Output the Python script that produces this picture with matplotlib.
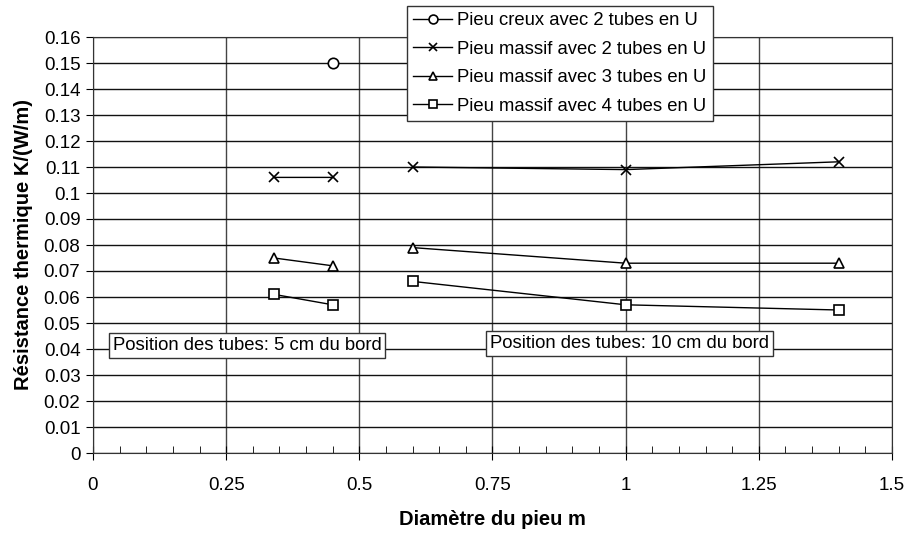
import numpy as np
import matplotlib
matplotlib.use('Agg')
import matplotlib.pyplot as plt
from matplotlib.ticker import MultipleLocator, FuncFormatter

plt.rcParams['font.family'] = ['Liberation Sans', 'DejaVu Sans']

# donnees (NaN = coupure entre 5 cm et 10 cm du bord)
diam = [0.34, 0.45, np.nan, 0.6, 1.0, 1.4]
creux_2u_x = [0.45]
creux_2u = [0.15]
massif_2u = [0.106, 0.106, np.nan, 0.110, 0.109, 0.112]
massif_3u = [0.075, 0.072, np.nan, 0.079, 0.073, 0.073]
massif_4u = [0.061, 0.057, np.nan, 0.066, 0.057, 0.055]
labels = ['Pieu creux avec 2 tubes en U', 'Pieu massif avec 2 tubes en U',
          'Pieu massif avec 3 tubes en U', 'Pieu massif avec 4 tubes en U']

fig = plt.figure(figsize=(9.06, 5.33), dpi=100)
ax = fig.add_axes([93/906, 1-453/533, 799/906, 416/533])

style = dict(color='black', lw=1.0, mfc='white', mec='black', mew=1.2, ms=7.5)
ax.plot(creux_2u_x, creux_2u, marker='o', label=labels[0], **style)
ax.plot(diam, massif_2u, marker='x', label=labels[1], **style)
ax.plot(diam, massif_3u, marker='^', label=labels[2], **style)
ax.plot(diam, massif_4u, marker='s', label=labels[3], **style)

fmt = FuncFormatter(lambda v, p: ('%.2f' % v).rstrip('0').rstrip('.'))
ax.set_xlim(0, 1.5)
ax.set_ylim(0, 0.16)
ax.xaxis.set_major_locator(MultipleLocator(0.25))
ax.xaxis.set_minor_locator(MultipleLocator(0.05))
ax.yaxis.set_major_locator(MultipleLocator(0.01))
ax.xaxis.set_major_formatter(fmt)
ax.yaxis.set_major_formatter(fmt)
ax.grid(True, which='major', axis='y', color='#111111', lw=1.0)
ax.grid(True, which='major', axis='x', color='#444444', lw=1.0)
ax.set_axisbelow(True)
for s in ax.spines.values():
    s.set_color('#333333')
ax.tick_params(axis='x', which='major', direction='inout', length=10, labelsize=13.5, pad=12)
ax.tick_params(axis='x', which='minor', direction='in', length=5)
ax.tick_params(axis='y', which='major', direction='out', length=5, labelsize=13.5, pad=4)

ax.set_xlabel('Diamètre du pieu m', fontweight='bold', fontsize=14.5, labelpad=12)
ax.set_ylabel('Résistance thermique K/(W/m)', fontweight='bold', fontsize=14.5, labelpad=8)

box = dict(boxstyle='square,pad=0.2', fc='white', ec='#333333', lw=1)
ax.text(0.289, 0.0413, 'Position des tubes: 5 cm du bord', fontsize=13.3,
        ha='center', va='center', bbox=box)
ax.text(1.007, 0.0421, 'Position des tubes: 10 cm du bord', fontsize=13.3,
        ha='center', va='center', bbox=box)

leg = fig.legend(loc='upper left', bbox_to_anchor=(407/906, 1-6/533), fontsize=13.3,
                 frameon=True, fancybox=False, edgecolor='#333333', framealpha=1,
                 handlelength=2.1, handletextpad=0.25, borderpad=0.35, labelspacing=0.62,
                 borderaxespad=0, markerscale=0.85)
leg.get_frame().set_linewidth(1.0)

fig.savefig('out.png', dpi=100)
